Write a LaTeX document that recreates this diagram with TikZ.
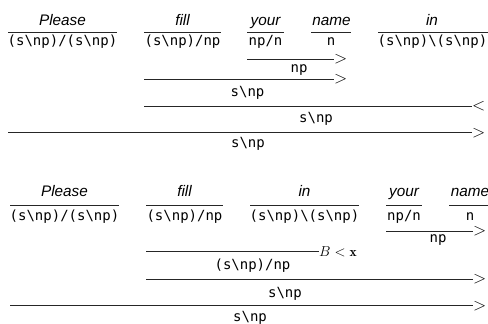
\documentclass[tikz,border=0pt]{standalone}
\usepackage{fontspec}
\newfontfamily\wordfont{Liberation Sans}
\newfontfamily\catfont{DejaVu Sans Mono}
\newcommand{\bsl}{\textbackslash}
\tikzset{
  word/.style={font=\fontsize{15.3}{16}\selectfont\wordfont\itshape, anchor=base, inner sep=0pt},
  cat/.style={font=\fontsize{14}{15}\selectfont\catfont, anchor=base, inner sep=0pt},
  rl/.style={line width=1pt, draw=black!85},
  dirmark/.style={anchor=west, inner sep=0pt, font=\fontsize{17}{17}\selectfont},
  combmark/.style={anchor=west, inner sep=0pt, font=\fontsize{13.5}{14}\selectfont},
}
\begin{document}
\begin{tikzpicture}[x=1pt,y=-1pt]
\useasboundingbox (0,0) rectangle (488,324);
% ---------- derivation 1 ----------
\node[word] (a1) at (62.5,25) {Please};
\node[word] (a2) at (182.5,25) {fill};
\node[word] (a3) at (265.5,25) {your};
\node[word] (a4) at (331.5,25) {name};
\node[word] (a5) at (432,25) {in};
\coordinate (l1a) at (8,32.3);   \coordinate (l1b) at (117,32.3);
\coordinate (l2a) at (144,32.3); \coordinate (l2b) at (221,32.3);
\coordinate (l3a) at (247,32.3); \coordinate (l3b) at (284,32.3);
\coordinate (l4a) at (311,32.3); \coordinate (l4b) at (351,32.3);
\coordinate (l5a) at (378,32.3); \coordinate (l5b) at (488,32.3);
\draw[rl] (l1a) -- (l1b); \draw[rl] (l2a) -- (l2b); \draw[rl] (l3a) -- (l3b);
\draw[rl] (l4a) -- (l4b); \draw[rl] (l5a) -- (l5b);
\node[cat] (c1) at (62.5,45.5) {(s\bsl np)/(s\bsl np)};
\node[cat] (c2) at (182.5,45.5) {(s\bsl np)/np};
\node[cat] (c3) at (265.5,45.5) {np/n};
\node[cat] (c4) at (331,45.5) {n};
\node[cat] (c5) at (432.5,45.5) {(s\bsl np)\bsl(s\bsl np)};
% np
\coordinate (d1a) at (247,59.3); \coordinate (d1b) at (334,59.3);
\draw[rl] (d1a) -- (d1b);
\node[dirmark] (m1) at (d1b) {$>$};
\node[cat] (e1) at (299,72) {np};
% s\np
\coordinate (d2a) at (144,79); \coordinate (d2b) at (334,79);
\draw[rl] (d2a) -- (d2b);
\node[dirmark] (m2) at (d2b) {$>$};
\node[cat] (e2) at (247.5,96) {s\bsl np};
% <
\coordinate (d3a) at (144,106); \coordinate (d3b) at (472,106);
\draw[rl] (d3a) -- (d3b);
\node[dirmark] (m3) at (d3b) {$<$};
\node[cat] (e3) at (316,122) {s\bsl np};
% >
\coordinate (d4a) at (8,132.7); \coordinate (d4b) at (472,132.7);
\draw[rl] (d4a) -- (d4b);
\node[dirmark] (m4) at (d4b) {$>$};
\node[cat] (e4) at (248,147) {s\bsl np};
% ---------- derivation 2 ----------
\node[word] (b1) at (64.5,196.5) {Please};
\node[word] (b2) at (184.5,196.5) {fill};
\node[word] (b3) at (304.5,196.5) {in};
\node[word] (b4) at (404,196.5) {your};
\node[word] (b5) at (470,196.5) {name};
\coordinate (k1a) at (10,205.7);  \coordinate (k1b) at (119,205.7);
\coordinate (k2a) at (146,205.7); \coordinate (k2b) at (223,205.7);
\coordinate (k3a) at (250,205.7); \coordinate (k3b) at (359,205.7);
\coordinate (k4a) at (386,205.7); \coordinate (k4b) at (422,205.7);
\coordinate (k5a) at (449,205.7); \coordinate (k5b) at (491,205.7);
\draw[rl] (k1a) -- (k1b); \draw[rl] (k2a) -- (k2b); \draw[rl] (k3a) -- (k3b);
\draw[rl] (k4a) -- (k4b); \draw[rl] (k5a) -- (k5b);
\node[cat] (f1) at (64.5,220.5) {(s\bsl np)/(s\bsl np)};
\node[cat] (f2) at (184.5,220.5) {(s\bsl np)/np};
\node[cat] (f3) at (304.5,220.5) {(s\bsl np)\bsl(s\bsl np)};
\node[cat] (f4) at (404,220.5) {np/n};
\node[cat] (f5) at (470,220.5) {n};
% np
\coordinate (g1a) at (386,231); \coordinate (g1b) at (473,231);
\draw[rl] (g1a) -- (g1b);
\node[dirmark] (n1) at (g1b) {$>$};
\node[cat] (h1) at (438,242) {np};
% B<x
\coordinate (g2a) at (146,251.7); \coordinate (g2b) at (319,251.7);
\draw[rl] (g2a) -- (g2b);
\node[combmark] (n2) at (g2b) {$B<\mathbf{x}$};
\node[cat] (h2) at (252.5,269.5) {(s\bsl np)/np};
% >
\coordinate (g3a) at (146,279); \coordinate (g3b) at (473,279);
\draw[rl] (g3a) -- (g3b);
\node[dirmark] (n3) at (g3b) {$>$};
\node[cat] (h3) at (285,297) {s\bsl np};
% >
\coordinate (g4a) at (10,305.7); \coordinate (g4b) at (473,305.7);
\draw[rl] (g4a) -- (g4b);
\node[dirmark] (n4) at (g4b) {$>$};
\node[cat] (h4) at (250,321.5) {s\bsl np};
\end{tikzpicture}
\end{document}
